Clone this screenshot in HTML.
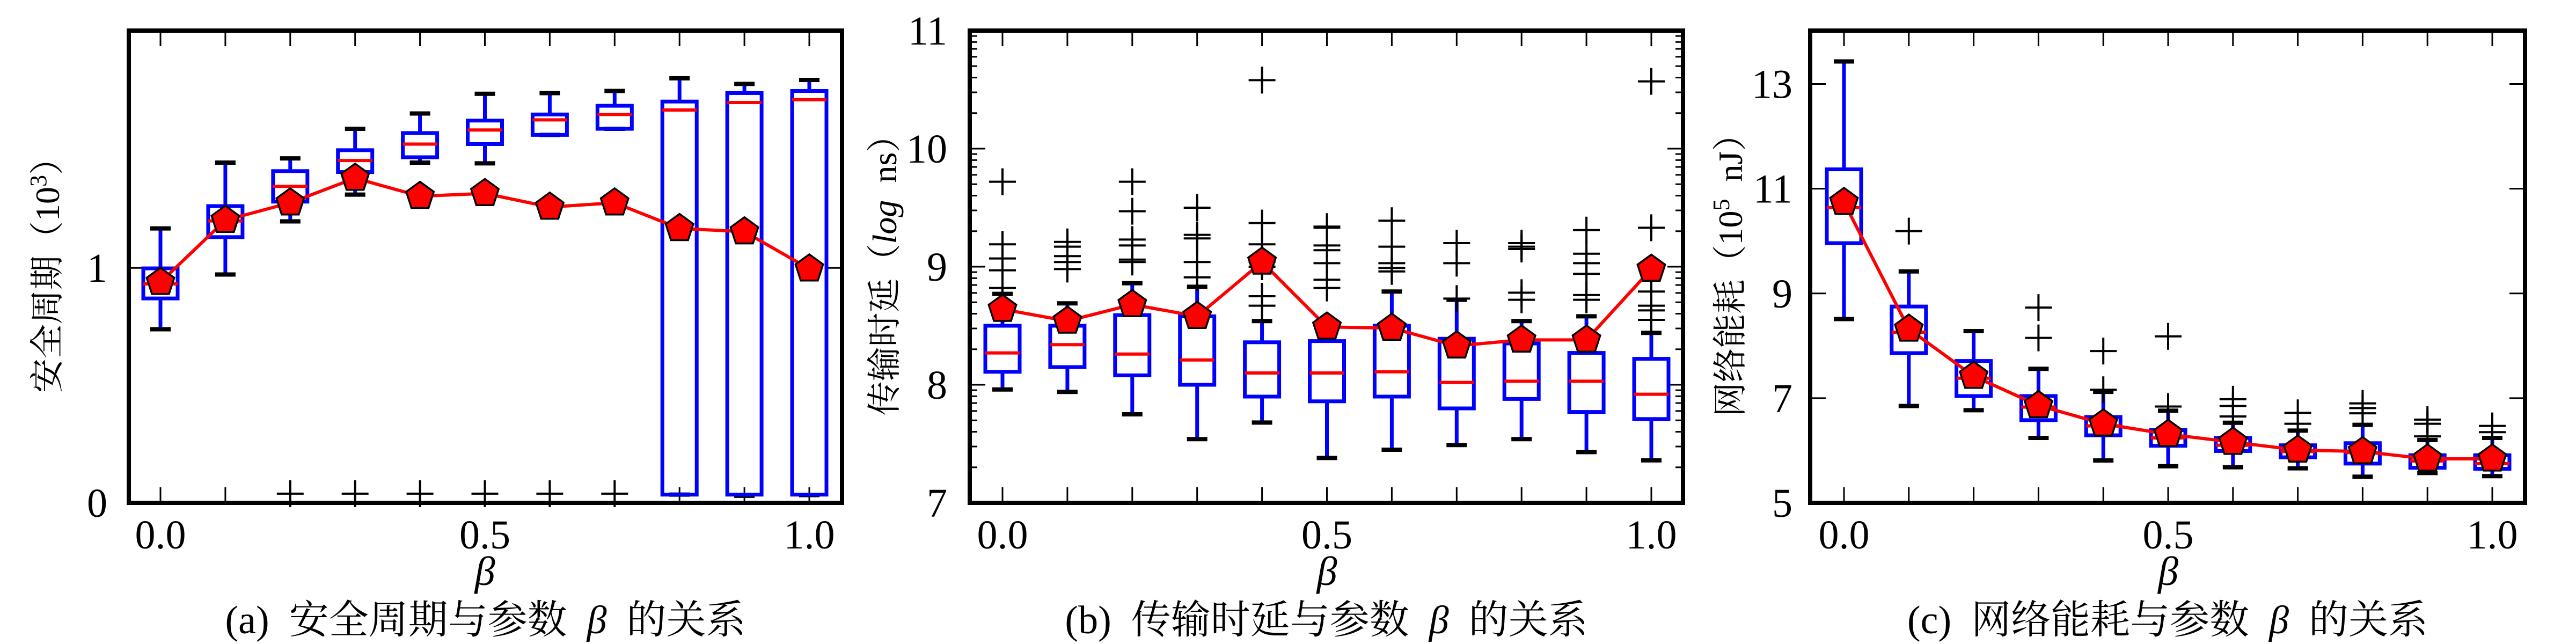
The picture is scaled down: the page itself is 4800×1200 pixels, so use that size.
<!DOCTYPE html>
<html><head><meta charset="utf-8">
<style>
html,body{margin:0;padding:0;background:#fff;}
svg{display:block;}
text{font-family:"Liberation Serif","Noto Serif CJK SC",serif;fill:#000;}
</style></head>
<body>
<svg id="fig" width="4800" height="1200" viewBox="0 0 4800 1200" xmlns="http://www.w3.org/2000/svg"></svg>
<script>
const betas=[0,0.1,0.2,0.3,0.4,0.5,0.6,0.7,0.8,0.9,1.0];
const xTickLabels=["0.0","0.5","1.0"];
// panel a
const aQ1=[0.870,1.131,1.282,1.408,1.471,1.527,1.566,1.592,0.035,0.035,0.035];
const aQ3=[0.998,1.263,1.412,1.501,1.574,1.627,1.653,1.690,1.708,1.744,1.753];
const aMed=[0.932,1.200,1.347,1.457,1.527,1.587,1.630,1.653,1.672,1.704,1.716];
const aLo=[0.739,0.972,1.198,1.312,1.448,1.445,1.566,1.592,0.035,0.030,0.033];
const aHi=[1.168,1.448,1.466,1.592,1.657,1.741,1.744,1.753,1.807,1.783,1.800];
const aMean=[0.939,1.203,1.277,1.382,1.305,1.317,1.259,1.277,1.168,1.154,0.996];
const aOut=[[],[],[0.039],[0.039],[0.039],[0.039],[0.039],[0.039],[],[],[]];
const aYTicks=[0,1];
// panel b
const bQ1=[8.11,8.15,8.08,8.00,7.90,7.86,7.90,7.80,7.88,7.77,7.71];
const bQ3=[8.50,8.50,8.59,8.58,8.36,8.37,8.50,8.39,8.35,8.27,8.22];
const bMed=[8.27,8.34,8.26,8.21,8.10,8.10,8.11,8.02,8.03,8.03,7.92];
const bLo=[7.96,7.94,7.75,7.54,7.68,7.38,7.45,7.49,7.54,7.43,7.36];
const bHi=[8.77,8.69,8.86,8.83,8.54,8.48,8.79,8.72,8.54,8.58,8.44];
const bMean=[8.64,8.54,8.68,8.58,9.04,8.49,8.48,8.33,8.38,8.38,8.98];
const bOut=[[9.72,9.19,9.07,8.97,8.82],[9.21,9.17,9.09,9.04,8.98],[9.72,9.47,9.23,9.18,9.06,9.04],[9.50,9.27,9.24,9.04,8.91],[10.58,9.37,9.19,9.04,9.00,8.75,8.67],[9.34,9.33,9.18,9.14,9.03,8.89,8.82],[9.39,9.17,9.03,8.99,8.96],[9.20,9.03,8.73],[9.20,9.17,9.15,8.78,8.72],[9.31,9.11,9.03,8.94,8.76,8.72],[10.57,9.33,8.79,8.67,8.63,8.55]];
const bYTicks=[7,8,9,10,11];
// panel c
const cQ1=[9.96,7.86,7.04,6.58,6.29,6.09,5.99,5.87,5.75,5.67,5.65];
const cQ3=[11.37,8.75,7.71,7.04,6.64,6.39,6.24,6.10,6.14,5.91,5.91];
const cMed=[10.64,8.26,7.38,6.83,6.47,6.24,6.10,5.98,5.96,5.80,5.75];
const cLo=[8.51,6.85,6.77,6.24,5.81,5.70,5.68,5.66,5.50,5.57,5.51];
const cHi=[13.43,9.42,8.28,7.56,7.12,6.76,6.53,6.38,6.49,6.20,6.24];
const cMean=[10.74,8.32,7.42,6.86,6.51,6.31,6.16,6.01,5.98,5.84,5.84];
const cOut=[[],[10.19],[],[8.73,8.15],[7.90,7.16],[8.18,6.84],[6.98,6.85,6.65],[6.72,6.51],[6.90,6.81,6.71],[6.59,6.51,6.27],[6.47,6.35]];
const cYTicks=[5,7,9,11,13];

const NS="http://www.w3.org/2000/svg";
const svg=document.getElementById('fig');
function mk(tag,attrs,parent){const e=document.createElementNS(NS,tag);for(const k in attrs)e.setAttribute(k,attrs[k]);(parent||svg).appendChild(e);return e;}

const panels=[
 {id:'a',L:240,R:1569,x0:299,x1:1508,ymin:0,ymax:2.01,Q1:aQ1,Q3:aQ3,Med:aMed,Lo:aLo,Hi:aHi,Mean:aMean,Out:aOut,yt:aYTicks,ytx:200,log:false,ylx:88,
  ylab:'安全周期（10<tspan baseline-shift="super" font-size="44">3</tspan>）',cap:'(a)\u2002安全周期与参数\u2002<tspan font-style="italic">β</tspan>\u2002的关系'},
 {id:'b',L:1807,R:3136,x0:1868,x1:3077,ymin:7,ymax:11,Q1:bQ1,Q3:bQ3,Med:bMed,Lo:bLo,Hi:bHi,Mean:bMean,Out:bOut,yt:bYTicks,ytx:1765,log:true,ylx:1648,
  ylab:'传输时延（<tspan font-style="italic">log</tspan>\u2002ns）',cap:'(b)\u2002传输时延与参数\u2002<tspan font-style="italic">β</tspan>\u2002的关系'},
 {id:'c',L:3373,R:4705,x0:3436,x1:4644,ymin:5,ymax:14.02,Q1:cQ1,Q3:cQ3,Med:cMed,Lo:cLo,Hi:cHi,Mean:cMean,Out:cOut,yt:cYTicks,ytx:3340,log:false,ylx:3224,
  ylab:'网络能耗（10<tspan baseline-shift="super" font-size="44">5</tspan>\u2002nJ）',cap:'(c)\u2002网络能耗与参数\u2002<tspan font-style="italic">β</tspan>\u2002的关系'}
];
const T=57,B=937;

panels.forEach(p=>{
 const g=mk('g',{});
 
 
 const X=v=>p.x0+(p.x1-p.x0)*v;
 const Y=v=>B-(v-p.ymin)/(p.ymax-p.ymin)*(B-T);
 betas.forEach(b=>{
  const t1=mk('line',{x1:X(b),x2:X(b),y1:B,y2:B-29,stroke:'#000','stroke-width':3},g);
  
  
  const t2=mk('line',{x1:X(b),x2:X(b),y1:T,y2:T+29,stroke:'#000','stroke-width':3},g);
  
  
 });
 [0,0.5,1].forEach((v,i)=>{
  const t=mk('text',{x:X(v),y:1022,'font-size':76,'text-anchor':'middle'},g);
  t.textContent=xTickLabels[i];
  
  
 });
 p.yt.forEach(v=>{
  [[p.L,p.L+29],[p.R,p.R-29]].forEach(([a,b2])=>{
   const l=mk('line',{x1:a,x2:b2,y1:Y(v),y2:Y(v),stroke:'#000','stroke-width':3},g);
   
   
  });
  const t=mk('text',{x:p.ytx,y:Y(v)+26,'font-size':76,'text-anchor':'end'},g);
  t.textContent=String(v);
  
  
 });
 if(p.log){
  for(let k=7;k<11;k++)for(let m=2;m<=9;m++){
   const v=k+Math.log10(m);
   [[p.L,p.L+14],[p.R,p.R-14]].forEach(([a,b2])=>{
    const l=mk('line',{x1:a,x2:b2,y1:Y(v),y2:Y(v),stroke:'#000','stroke-width':3},g);
    
    
   });
  }
 }
 betas.forEach((b,i)=>{
  const cx=X(b);
  const w1=mk('line',{x1:cx,x2:cx,y1:Y(p.Q3[i]),y2:Y(p.Hi[i]),stroke:'#0000ff','stroke-width':7},g);
  
  
  const w2=mk('line',{x1:cx,x2:cx,y1:Y(p.Q1[i]),y2:Y(p.Lo[i]),stroke:'#0000ff','stroke-width':7},g);
  
  
  [p.Hi[i],p.Lo[i]].forEach(v=>{
   const c=mk('line',{x1:cx-19,x2:cx+19,y1:Y(v),y2:Y(v),stroke:'#000','stroke-width':8},g);
   
   
  });
  const r=mk('rect',{x:cx-32,y:Y(p.Q3[i]),width:64,height:Y(p.Q1[i])-Y(p.Q3[i]),fill:'none',stroke:'#0000ff','stroke-width':7},g);
  
  
  const md=mk('line',{x1:cx-32,x2:cx+32,y1:Y(p.Med[i]),y2:Y(p.Med[i]),stroke:'#ff0000','stroke-width':6},g);
  
  
  p.Out[i].forEach(v=>{
   const o=mk('path',{d:`M${cx-25},${Y(v)}H${cx+25}M${cx},${Y(v)-25}V${Y(v)+25}`,stroke:'#000','stroke-width':4,fill:'none'},g);
   
   
  });
 });
 const pl=mk('polyline',{points:betas.map((b,i)=>X(b)+','+Y(p.Mean[i])).join(' '),fill:'none',stroke:'#ff0000','stroke-width':6},g);
 
 
 betas.forEach((b,i)=>{
  const cx=X(b),cy=Y(p.Mean[i]);const pts=[];
  for(let k=0;k<5;k++){const a=-Math.PI/2+k*2*Math.PI/5;pts.push((cx+27*Math.cos(a)).toFixed(1)+','+(cy+27*Math.sin(a)).toFixed(1));}
  const m=mk('polygon',{points:pts.join(' '),fill:'#ff0000',stroke:'#000','stroke-width':3.5},g);
  
  
 });
 const f=mk('rect',{x:p.L,y:T,width:p.R-p.L,height:B-T,fill:'none',stroke:'#000','stroke-width':8},g);
 
 
 const xl=mk('text',{x:(p.x0+p.x1)/2,y:1090,'font-size':76,'text-anchor':'middle','font-style':'italic'},g);
 xl.textContent='β';
 
 
 const yl=mk('text',{x:0,y:0,'font-size':64,'text-anchor':'middle',transform:`translate(${p.ylx+22},497) rotate(-90)`},g);
 yl.innerHTML=p.ylab;
 
 
 const cp=mk('text',{x:(p.L+p.R)/2,y:1180,'font-size':74,'text-anchor':'middle'},g);
 cp.innerHTML=p.cap;
 
 
});
</script>
</body></html>
